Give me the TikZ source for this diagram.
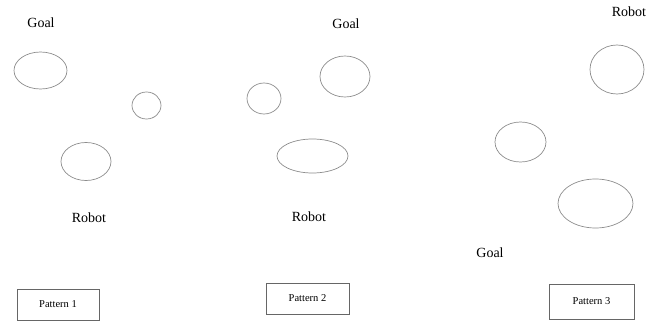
\documentclass[tikz,border=0pt]{standalone}
\usepackage{fontspec}
\setmainfont{Liberation Serif}
\usetikzlibrary{shapes.geometric}
\begin{document}
\begin{tikzpicture}[x=1pt,y=-1pt,
  obst/.style={draw=black!45,line width=0.7pt,ellipse,inner sep=0pt},
  lbl/.style={font=\fontsize{14}{16}\selectfont,inner sep=0pt},
  patbox/.style={draw=black!60,line width=0.6pt,font=\fontsize{10.5}{12}\selectfont,inner sep=0pt}
]
\useasboundingbox (0,0) rectangle (662,321);
% Panel 1
\node[lbl] (g1) at (41,23) {Goal};
\node[obst,minimum width=53pt,minimum height=37pt] (e11) at (40.5,70.5) {};
\node[obst,minimum width=29pt,minimum height=27pt] (e12) at (146.5,105.5) {};
\node[obst,minimum width=50pt,minimum height=38pt] (e13) at (86,161.5) {};
\node[lbl] (r1) at (89,218) {Robot};
\node[patbox,minimum width=82pt,minimum height=31pt] (p1) at (58,304.5) {Pattern 1};
% Panel 2
\node[lbl] (g2) at (346,24) {Goal};
\node[obst,minimum width=34pt,minimum height=31pt] (e21) at (264,98.5) {};
\node[obst,minimum width=50pt,minimum height=41pt] (e22) at (345,76.5) {};
\node[obst,minimum width=71pt,minimum height=34pt] (e23) at (312.5,156) {};
\node[lbl] (r2) at (309,217) {Robot};
\node[patbox,minimum width=83pt,minimum height=31pt] (p2) at (307.5,298.5) {Pattern 2};
% Panel 3
\node[lbl] (r3) at (629,12) {Robot};
\node[obst,minimum width=54pt,minimum height=49pt] (e31) at (617,69.5) {};
\node[obst,minimum width=51pt,minimum height=40pt] (e32) at (520.5,142) {};
\node[obst,minimum width=75pt,minimum height=49pt] (e33) at (595.5,203.5) {};
\node[lbl] (g3) at (490,253) {Goal};
\node[patbox,minimum width=85pt,minimum height=35pt] (p3) at (591.5,301.5) {Pattern 3};
\end{tikzpicture}
\end{document}
